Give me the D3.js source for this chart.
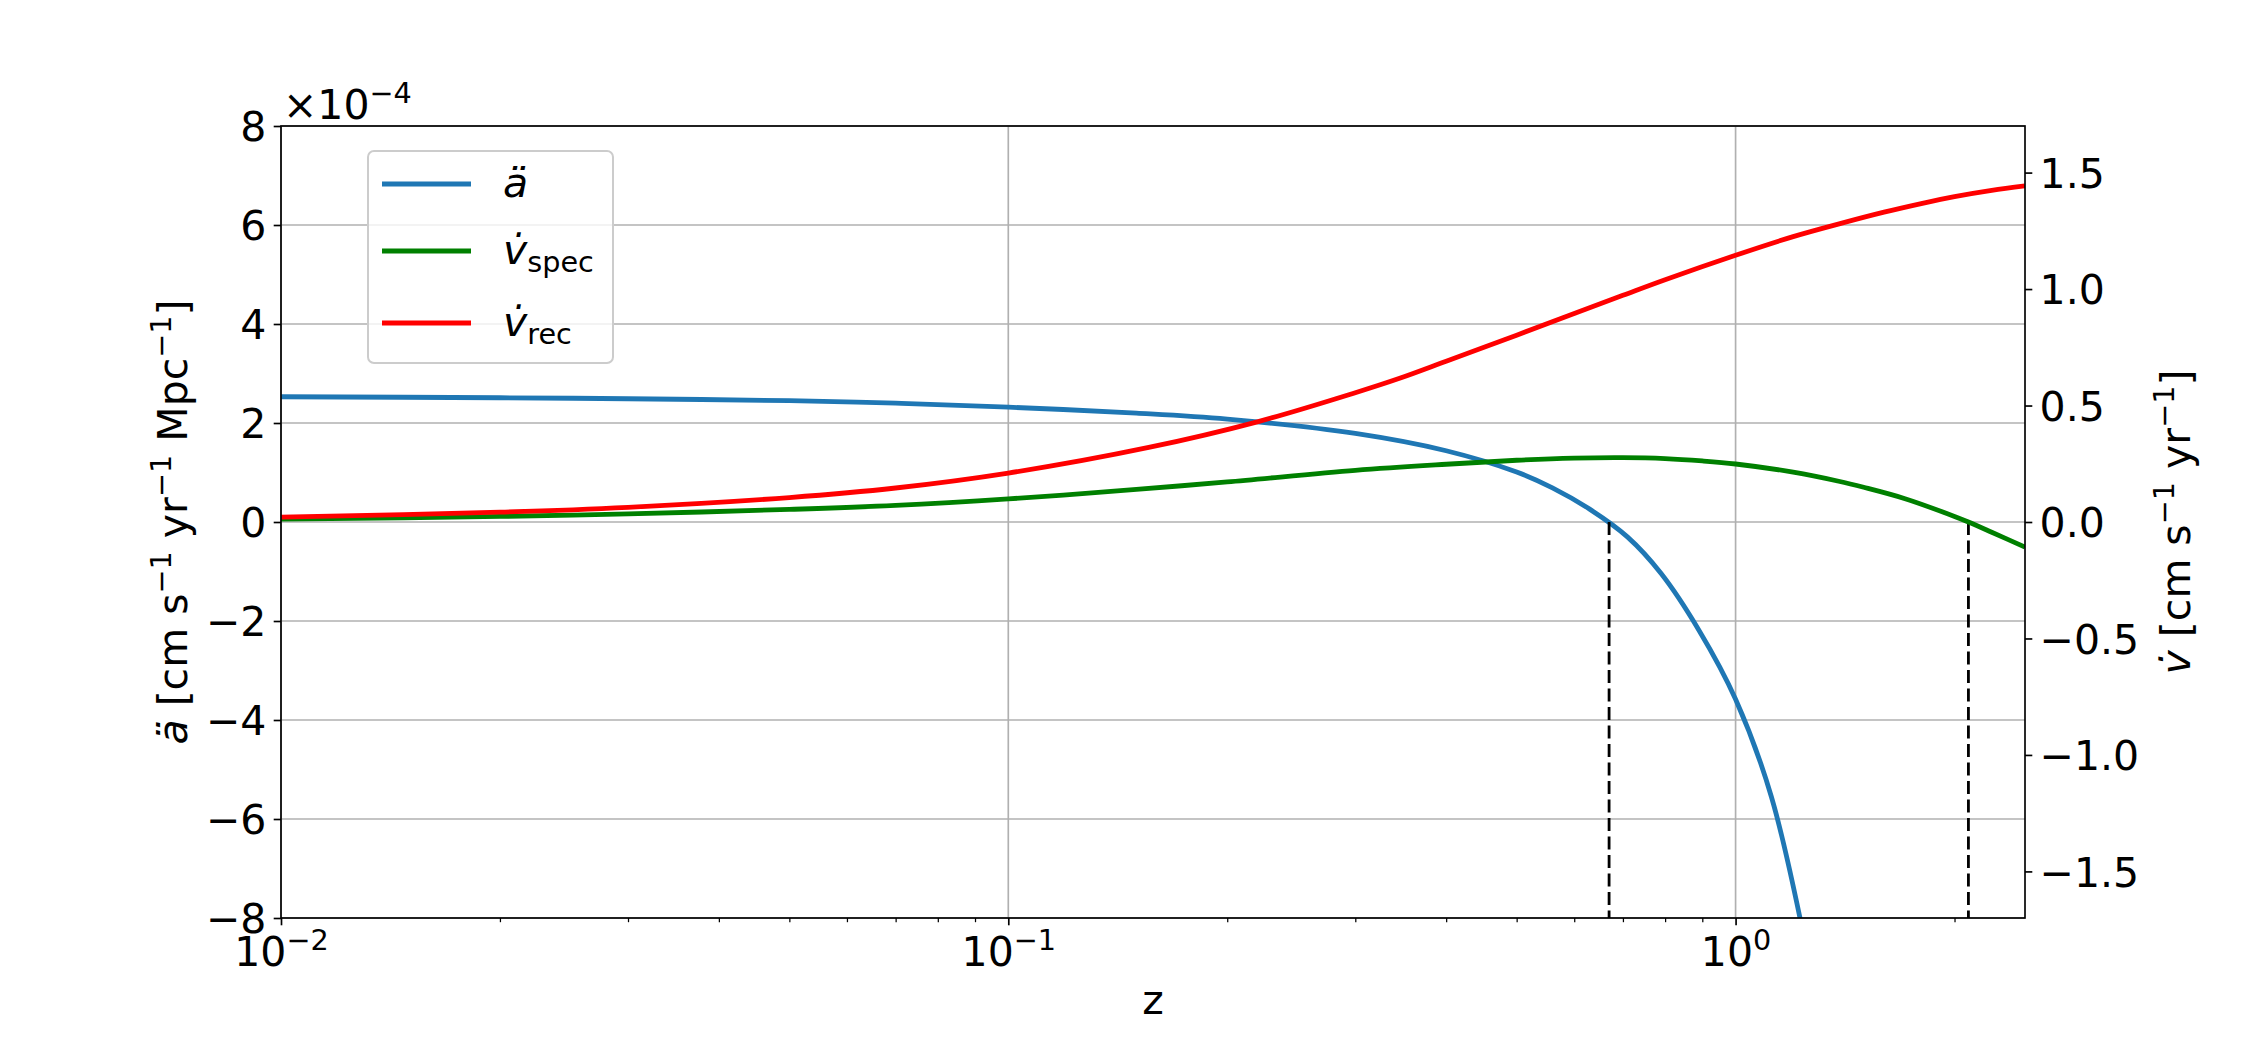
<!DOCTYPE html>
<html>
<head>
<meta charset="utf-8">
<script src="https://cdn.jsdelivr.net/npm/d3@7/dist/d3.min.js"></script>
<style>
  body { margin: 0; background: #fff; }
  text { font-family: "DejaVu Sans", sans-serif; fill: #000; }
</style>
</head>
<body>
<div id="chart"></div>
<script>
// values (left axis in units of 1e-4, right axis in cm/s/yr)
var zAcc  = [0.01, 0.02, 0.03, 0.05, 0.07, 0.1, 0.15, 0.2, 0.3, 0.4, 0.5, 0.56, 0.63, 0.71, 0.79, 0.89, 1.0, 1.12, 1.26];
var accel = [2.53, 2.51, 2.49, 2.45, 2.40, 2.32, 2.20, 2.08, 1.79, 1.44, 1.01, 0.69, 0.26, -0.30, -1.04, -2.18, -3.58, -5.55, -8.85];

var zSpec = [0.01, 0.02, 0.03, 0.05, 0.07, 0.1, 0.15, 0.2, 0.3, 0.4, 0.5, 0.6, 0.7, 0.8, 0.9, 1.0, 1.2, 1.386, 1.5, 1.71, 2.0, 2.09, 2.25, 2.5];
var vSpec = [0.012, 0.024, 0.035, 0.054, 0.071, 0.099, 0.14, 0.172, 0.222, 0.248, 0.265, 0.274, 0.276, 0.272, 0.262, 0.249, 0.214, 0.175, 0.149, 0.100, 0.024, 0, -0.044, -0.108];

var zRec = [0.01, 0.02, 0.03, 0.05, 0.07, 0.1, 0.156, 0.22, 0.3, 0.346, 0.4, 0.5, 0.6, 0.7, 0.8, 1.0, 1.2, 1.4, 1.6, 1.8, 2.0, 2.25, 2.5];
var vRec = [0.021, 0.042, 0.063, 0.105, 0.146, 0.21, 0.32, 0.43, 0.555, 0.618, 0.69, 0.802, 0.895, 0.973, 1.040, 1.145, 1.225, 1.283, 1.330, 1.367, 1.397, 1.424, 1.443];

// redshifts where the dashed markers sit
var zeroZ = [0.67, 2.09];

var leftTicks  = [-8, -6, -4, -2, 0, 2, 4, 6, 8];
var rightTicks = [-1.5, -1.0, -0.5, 0.0, 0.5, 1.0, 1.5];
var xMajor = [0.01, 0.1, 1];
var xMinor = [0.02, 0.03, 0.04, 0.05, 0.06, 0.07, 0.08, 0.09, 0.2, 0.3, 0.4, 0.5, 0.6, 0.7, 0.8, 0.9, 2];
var xExp   = ["\u22122", "\u22121", "0"];

var seriesNames  = ["spec", "rec"];
var seriesColors = ["#1f77b4", "green", "red"];

// set the dimensions and margins of the graph
var margin = {top: 126, right: 225, bottom: 132, left: 281},
    width = 2250 - margin.left - margin.right,
    height = 1050 - margin.top - margin.bottom;

var fs = 41;          // font size
var supUp = 16.5;     // superscript raise
var lw = 4.8;
var tickLen = 7.3, tickPad = 7.3;

var svgRoot = d3.select("#chart")
  .append("svg")
    .attr("width", 2250)
    .attr("height", 1050);

var svg = svgRoot.append("g")
    .attr("transform", "translate(" + margin.left + "," + margin.top + ")");

var x = d3.scaleLog().domain([0.01, 2.5]).range([0, width]);
var yL = d3.scaleLinear().domain([-8, 8]).range([height, 0]);
var yR = d3.scaleLinear().domain([-1.7, 1.7]).range([height, 0]);

function minus(v, digits) {
  var s = digits ? Math.abs(v).toFixed(digits) : String(Math.abs(v));
  return (v < 0 ? "\u2212" : "") + s;
}

svg.append("clipPath").attr("id", "plotclip")
  .append("rect").attr("width", width).attr("height", height);

// grid
svg.append("g").selectAll("line.h")
  .data(leftTicks).enter().append("line")
    .attr("x1", 0).attr("x2", width)
    .attr("y1", function(d) { return yL(d); })
    .attr("y2", function(d) { return yL(d); })
    .attr("stroke", "#b0b0b0").attr("stroke-width", 1.67);
svg.append("g").selectAll("line.v")
  .data(xMajor).enter().append("line")
    .attr("x1", function(d) { return x(d); })
    .attr("x2", function(d) { return x(d); })
    .attr("y1", 0).attr("y2", height)
    .attr("stroke", "#b0b0b0").attr("stroke-width", 1.67);

var plot = svg.append("g").attr("clip-path", "url(#plotclip)");

var lineL = d3.line()
  .x(function(d) { return x(d[0]); })
  .y(function(d) { return yL(d[1]); })
  .curve(d3.curveCatmullRom.alpha(0.5));
var lineR = d3.line()
  .x(function(d) { return x(d[0]); })
  .y(function(d) { return yR(d[1]); })
  .curve(d3.curveCatmullRom.alpha(0.5));

plot.append("path")
  .datum(d3.zip(zAcc, accel))
  .attr("d", lineL)
  .attr("fill", "none").attr("stroke", seriesColors[0]).attr("stroke-width", lw);

// dashed markers from the zero line down
plot.selectAll("line.zero")
  .data(zeroZ).enter().append("line")
    .attr("x1", function(d) { return x(d); })
    .attr("x2", function(d) { return x(d); })
    .attr("y1", yL(0)).attr("y2", height)
    .attr("stroke", "#000").attr("stroke-width", 2.8)
    .attr("stroke-dasharray", "13,5.5");

plot.append("path")
  .datum(d3.zip(zSpec, vSpec))
  .attr("d", lineR)
  .attr("fill", "none").attr("stroke", seriesColors[1]).attr("stroke-width", lw);

plot.append("path")
  .datum(d3.zip(zRec, vRec))
  .attr("d", lineR)
  .attr("fill", "none").attr("stroke", seriesColors[2]).attr("stroke-width", lw);

// spines
svg.append("rect")
  .attr("width", width).attr("height", height)
  .attr("fill", "none").attr("stroke", "#000").attr("stroke-width", 1.67);

// left axis
var gL = svg.append("g")
  .call(d3.axisLeft(yL).tickValues(leftTicks).tickSize(tickLen).tickPadding(tickPad)
        .tickSizeOuter(0).tickFormat(function(d) { return minus(d); }));
// right axis
var gR = svg.append("g")
  .attr("transform", "translate(" + width + ",0)")
  .call(d3.axisRight(yR).tickValues(rightTicks).tickSize(tickLen).tickPadding(tickPad)
        .tickSizeOuter(0).tickFormat(function(d) { return minus(d, 1); }));
// bottom axis, major + minor
var gB = svg.append("g")
  .attr("transform", "translate(0," + height + ")")
  .call(d3.axisBottom(x).tickValues(xMajor).tickSize(tickLen).tickPadding(tickPad)
        .tickSizeOuter(0).tickFormat(""));
var gBm = svg.append("g")
  .attr("transform", "translate(0," + height + ")")
  .call(d3.axisBottom(x).tickValues(xMinor).tickSize(4.2).tickSizeOuter(0).tickFormat(""));

[gL, gR, gB, gBm].forEach(function(g) {
  g.select(".domain").remove();
  g.selectAll(".tick line").attr("stroke", "#000").attr("stroke-width", 1.67);
  g.selectAll("text").attr("font-size", fs).attr("font-family", "DejaVu Sans");
});
gBm.selectAll(".tick line").attr("stroke-width", 1.25);
gL.selectAll(".tick text").attr("dy", "0.36em");
gR.selectAll(".tick text").attr("dy", "0.36em");

gB.selectAll(".tick text").each(function(d, i) {
  var t = d3.select(this).text(null).attr("dy", "0.72em").attr("y", tickLen + tickPad + 4);
  t.append("tspan").text("10");
  t.append("tspan").attr("dy", -supUp).attr("font-size", fs * 0.7).text(xExp[i]);
});

// offset text
var off = svgRoot.append("text").attr("x", 283).attr("y", 119).attr("font-size", fs);
off.append("tspan").text("\u00d710");
off.append("tspan").attr("dy", -supUp).attr("font-size", fs * 0.7).text("\u22124");

// X axis label
svgRoot.append("text")
  .attr("text-anchor", "middle")
  .attr("x", margin.left + width / 2)
  .attr("y", 1014)
  .attr("font-size", fs)
  .text("z");

// Y axis labels
function sup(t, s) {
  t.append("tspan").attr("dy", -supUp).attr("font-size", fs * 0.7).text(s);
}
var yl = svgRoot.append("text")
  .attr("text-anchor", "middle")
  .attr("transform", "translate(187," + (margin.top + height / 2) + ") rotate(-90)")
  .attr("font-size", fs);
yl.append("tspan").attr("font-style", "italic").text("a\u0308");
yl.append("tspan").text(" [cm s");
sup(yl, "\u22121");
yl.append("tspan").attr("dy", supUp).text(" yr");
sup(yl, "\u22121");
yl.append("tspan").attr("dy", supUp).text(" Mpc");
sup(yl, "\u22121");
yl.append("tspan").attr("dy", supUp).text("]");

var yr = svgRoot.append("text")
  .attr("text-anchor", "middle")
  .attr("transform", "translate(2190," + (margin.top + height / 2) + ") rotate(-90)")
  .attr("font-size", fs);
yr.append("tspan").attr("font-style", "italic").text("v\u0307");
yr.append("tspan").text(" [cm s");
sup(yr, "\u22121");
yr.append("tspan").attr("dy", supUp).text(" yr");
sup(yr, "\u22121");
yr.append("tspan").attr("dy", supUp).text("]");

// legend
var legend = svgRoot.append("g");
legend.append("rect")
  .attr("x", 368).attr("y", 151).attr("width", 245).attr("height", 212)
  .attr("rx", 6).attr("ry", 6)
  .attr("fill", "#fff").attr("fill-opacity", 0.8)
  .attr("stroke", "#cccccc").attr("stroke-width", 2);

var rowY = [184, 251, 323];
legend.selectAll("line.leg")
  .data(seriesColors).enter().append("line")
    .attr("x1", 382).attr("x2", 471)
    .attr("y1", function(d, i) { return rowY[i]; })
    .attr("y2", function(d, i) { return rowY[i]; })
    .attr("stroke", function(d) { return d; })
    .attr("stroke-width", lw);

var l0 = legend.append("text").attr("x", 503).attr("y", rowY[0] + 13).attr("font-size", fs);
l0.append("tspan").attr("font-style", "italic").text("a\u0308");
seriesNames.forEach(function(name, i) {
  var t = legend.append("text").attr("x", 503).attr("y", rowY[i + 1] + 13).attr("font-size", fs);
  t.append("tspan").attr("font-style", "italic").text("v\u0307");
  t.append("tspan").attr("dy", 8).attr("font-size", fs * 0.7).text(name);
});
</script>
</body>
</html>
